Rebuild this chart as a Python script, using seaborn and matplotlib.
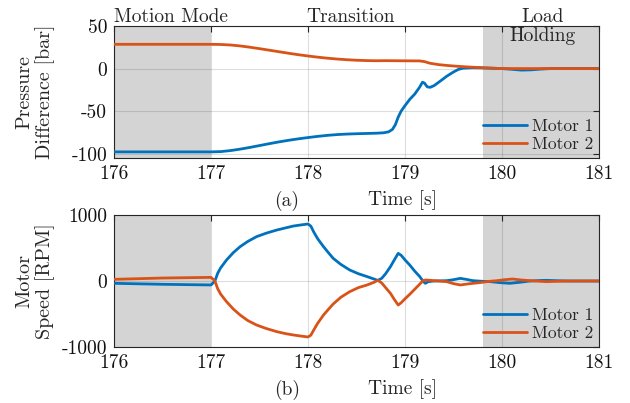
import numpy as np
import pandas as pd
import matplotlib
matplotlib.use("Agg")
import matplotlib.pyplot as plt
import seaborn as sns

# ---------------- data ----------------
series_names = ["Motor 1", "Motor 2"]

t_p1 = [176.0, 176.5, 177.0, 177.1, 177.2, 177.3, 177.4, 177.5, 177.6, 177.7, 177.8, 177.9,
        178.0, 178.1, 178.2, 178.3, 178.4, 178.5, 178.6, 178.7, 178.78, 178.83, 178.87,
        178.9, 178.93, 178.96, 179.0, 179.05, 179.1, 179.15, 179.18, 179.2, 179.23, 179.26,
        179.3, 179.36, 179.43, 179.5, 179.55, 179.6, 179.7, 179.8, 179.9, 180.0, 180.1,
        180.2, 180.3, 180.4, 180.5, 181.0]
p_motor1 = [-97.8, -97.8, -97.8, -97.5, -96.3, -94.6, -92.6, -90.4, -88.2, -86.1, -84.2, -82.5,
            -81.0, -79.6, -78.4, -77.5, -76.9, -76.5, -76.2, -75.9, -75.4, -74.3, -71.5,
            -66, -57, -50, -43.5, -36, -30, -22, -16, -17, -21.5, -22,
            -20, -15, -9, -4, -1, 0.5, 1, 0.8, 0.4, 0, -0.8,
            -1.8, -1.5, -0.6, 0, 0]

t_p2 = [176.0, 177.0, 177.1, 177.2, 177.3, 177.4, 177.5, 177.6, 177.7, 177.8, 177.9, 178.0,
        178.1, 178.2, 178.3, 178.4, 178.5, 178.6, 178.7, 178.8, 179.0, 179.15, 179.2, 179.26,
        179.35, 179.45, 179.55, 179.65, 179.8, 179.9, 180.0, 181.0]
p_motor2 = [28.5, 28.5, 28.3, 27.7, 26.6, 25.1, 23.4, 21.6, 19.8, 18.0, 16.3, 14.8,
            13.4, 12.2, 11.2, 10.4, 9.8, 9.4, 9.2, 9.3, 9.1, 9.0, 8.2, 6.2,
            4.6, 3.5, 2.6, 1.9, 1.0, 0.5, 0, 0]

t_s1 = [176.0, 176.5, 177.0, 177.04, 177.07, 177.1, 177.16, 177.23, 177.3, 177.38, 177.47,
        177.57, 177.68, 177.77, 177.85, 177.93, 178.0, 178.03, 178.06, 178.1, 178.16, 178.21,
        178.26, 178.34, 178.43, 178.52, 178.61, 178.68, 178.72, 178.76, 178.8, 178.85, 178.89,
        178.93, 178.96, 179.0, 179.05, 179.1, 179.15, 179.19, 179.21, 179.24, 179.3, 179.43,
        179.5, 179.57, 179.63, 179.7, 179.8, 179.88, 179.98, 180.08, 180.18, 180.29, 180.4,
        180.46, 180.6, 180.7, 181.0]
s_motor1 = [-35, -50, -60, 0, 120, 200, 318, 430, 520, 600, 672,
            725, 773, 805, 833, 850, 864, 830, 740, 640, 520, 430,
            343, 250, 167, 110, 66, 30, 10, 40, 110, 217, 320,
            419, 390, 320, 240, 150, 70, -10, -35, -10, 0, 5,
            20, 40, 25, 5, -5, -10, -25, -35, -20, 0, 8,
            10, 3, 0, 0]

t_s2 = [176.0, 176.5, 177.0, 177.04, 177.07, 177.1, 177.16, 177.23, 177.3, 177.38, 177.47,
        177.57, 177.68, 177.77, 177.85, 177.93, 178.0, 178.03, 178.06, 178.1, 178.16, 178.21,
        178.26, 178.34, 178.43, 178.52, 178.61, 178.68, 178.72, 178.76, 178.8, 178.85, 178.89,
        178.93, 178.96, 179.0, 179.05, 179.1, 179.15, 179.19, 179.22, 179.3, 179.43, 179.5,
        179.57, 179.67, 179.77, 179.87, 179.95, 180.03, 180.11, 180.2, 180.29, 180.4, 180.46,
        180.6, 180.7, 181.0]
s_motor2 = [25, 45, 55, 0, -120, -200, -313, -425, -515, -600, -667,
            -720, -768, -798, -818, -835, -848, -820, -740, -640, -515, -430,
            -348, -245, -162, -100, -60, -20, 10, -30, -100, -187, -280,
            -364, -330, -270, -200, -125, -50, 10, 15, 5, -10, -40,
            -60, -40, -25, -5, 5, 20, 30, 15, 5, -5, -10,
            -3, 0, 0]

x_ticks = [176, 177, 178, 179, 180, 181]
x_ticklabels = ["176", "177", "178", "179", "180", "181"]
p_ticks = [-100, -50, 0, 50]
p_ticklabels = ["-100", "-50", "0", "50"]
s_ticks = [-1000, 0, 1000]
s_ticklabels = ["-1000", "0", "1000"]

shade_regions = [(176.0, 177.0), (179.8, 181.0)]

# ---------------- style ----------------
sns.set_style("white")
plt.rcParams["font.family"] = ["cmr10", "DejaVu Serif"]
plt.rcParams["mathtext.fontset"] = "cm"
plt.rcParams["axes.unicode_minus"] = False
plt.rcParams["axes.formatter.use_mathtext"] = True

colors = {"Motor 1": "#0072BD", "Motor 2": "#D95319"}
dark = "#262626"

df_p = pd.concat([
    pd.DataFrame({"t": t_p1, "v": p_motor1, "Motor": series_names[0]}),
    pd.DataFrame({"t": t_p2, "v": p_motor2, "Motor": series_names[1]}),
])
df_s = pd.concat([
    pd.DataFrame({"t": t_s1, "v": s_motor1, "Motor": series_names[0]}),
    pd.DataFrame({"t": t_s2, "v": s_motor2, "Motor": series_names[1]}),
])

fig = plt.figure(figsize=(6.3, 4.03), dpi=100)
ax1 = fig.add_axes([114 / 630, 1 - 158 / 403, 485 / 630, 132 / 403])
ax2 = fig.add_axes([114 / 630, 1 - 347 / 403, 485 / 630, 132 / 403])


def style_axis(ax, df, yticks, yticklabels, ylim, ylabel):
    for a, b in shade_regions:
        ax.axvspan(a, b, color="#d4d4d4", lw=0, zorder=0.2)
    sns.lineplot(data=df, x="t", y="v", hue="Motor", palette=colors,
                 estimator=None, sort=False, lw=2.0, ax=ax, zorder=3)
    ax.set_xlim(176, 181)
    ax.set_ylim(*ylim)
    ax.set_xticks(x_ticks, labels=x_ticklabels)
    ax.set_yticks(yticks, labels=yticklabels)
    ax.set_axisbelow(True)
    ax.grid(True, color=dark, alpha=0.15, lw=0.8)
    ax.tick_params(direction="in", top=True, right=True, length=4, width=0.8,
                   color=dark, labelsize=14, labelcolor="#111111", pad=5)
    for sp in ax.spines.values():
        sp.set_color(dark)
        sp.set_linewidth(0.8)
        sp.set_visible(True)
    ax.set_xlabel("")
    ax.set_ylabel(ylabel, fontsize=14.5, multialignment="center", linespacing=1.1)
    ax.yaxis.set_label_coords(-0.122, 0.5)
    handles, labels = ax.get_legend_handles_labels()
    ax.legend(handles, labels, loc="lower right", frameon=False, fontsize=12.5,
              handlelength=2.55, handletextpad=0.25, labelspacing=0.15,
              borderaxespad=0.05, borderpad=0.3)


style_axis(ax1, df_p, p_ticks, p_ticklabels, (-105, 50), "Pressure\nDifference [bar]")
style_axis(ax2, df_s, s_ticks, s_ticklabels, (-1000, 1000), "Motor\nSpeed [RPM]")

# region annotations
trans = ax1.get_xaxis_transform()
ax1.text(176.0, 1.03, "Motion Mode", transform=trans, fontsize=14, ha="left", va="baseline")
ax1.text(178.44, 1.03, "Transition", transform=trans, fontsize=14, ha="center", va="baseline")
ax1.text(180.42, 1.03, "Load", transform=trans, fontsize=14, ha="center", va="baseline")
ax1.text(180.42, 0.886, "Holding", transform=trans, fontsize=14, ha="center", va="baseline")

# sub-captions and time labels
for ax, cap in [(ax1, "(a)"), (ax2, "(b)")]:
    tr = ax.get_xaxis_transform()
    ax.text(177.78, -0.325, cap, transform=tr, fontsize=14, ha="center", va="center")
    ax.text(178.97, -0.32, "Time [s]", transform=tr, fontsize=14, ha="center", va="center")

fig.savefig("out.png", dpi=100)
